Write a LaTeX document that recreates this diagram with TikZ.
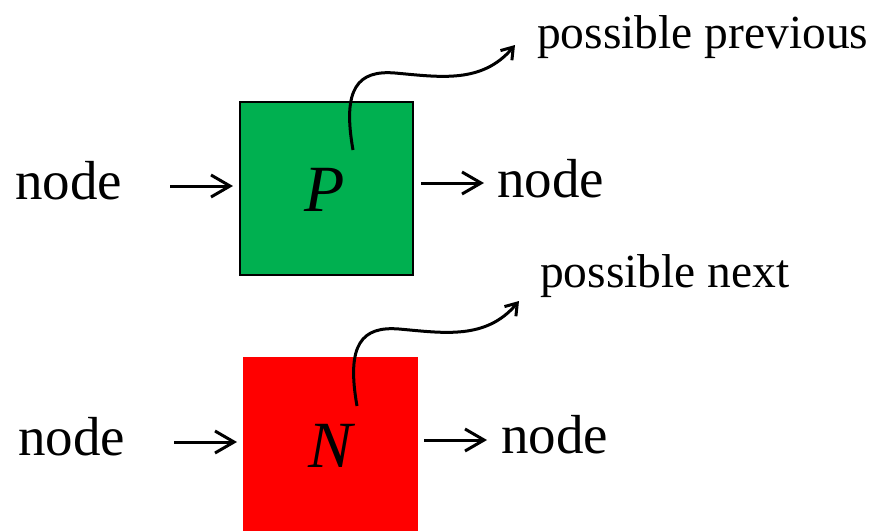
\documentclass[tikz,border=0pt]{standalone}
\usepackage{fontspec}
\setmainfont{Liberation Serif}
\usetikzlibrary{arrows.meta}
\definecolor{boxgreen}{HTML}{00B050}
\definecolor{boxred}{HTML}{FF0000}
\begin{document}
\begin{tikzpicture}[x=1pt,y=-1pt,
  bigtxt/.style={anchor=base west,inner sep=0pt,font=\fontsize{55}{60}\selectfont},
  lbltxt/.style={anchor=base west,inner sep=0pt,font=\fontsize{47.5}{52}\selectfont},
  lettxt/.style={anchor=base,inner sep=0pt,font=\fontsize{66}{70}\selectfont\itshape},
  arr/.style={line width=3pt,-{Straight Barb[length=19pt,width=22pt,line width=3pt]}},
  carr/.style={line width=3pt,-{Straight Barb[length=11pt,width=15pt,line width=3pt]}}]
\fill[white] (0,0) rectangle (872,531);
\useasboundingbox (0,0) rectangle (872,531);
% boxes
\draw[fill=boxgreen,line width=2.2pt] (240,102) rectangle (413,275);
\node[inner sep=0pt,minimum width=173pt,minimum height=173pt] (Pbox) at (326.5,188.5) {};
\fill[boxred] (243,357) rectangle (418,531);
\node[inner sep=0pt,minimum width=175pt,minimum height=174pt] (Nbox) at (330.5,444) {};
% letters
\node[lettxt] (P) at (325,211) {P};
\node[lettxt] (N) at (331,467) {N};
% text
\node[bigtxt] (n1) at (15,199) {node};
\node[bigtxt] (n2) at (497,197) {node};
\node[bigtxt] (n3) at (18,455) {node};
\node[bigtxt] (n4) at (501,453) {node};
\node[lbltxt] (prev) at (537,48) {possible previous};
\node[lbltxt] (next) at (540,287) {possible next};
% arrow coordinates
\coordinate (a1s) at (170,186); \coordinate (a1e) at (233,186);
\coordinate (a2s) at (421,183); \coordinate (a2e) at (484,183);
\coordinate (a3s) at (174,442); \coordinate (a3e) at (237,442);
\coordinate (a4s) at (424,440); \coordinate (a4e) at (487,440);
\draw[arr] (a1s) -- (a1e);
\draw[arr] (a2s) -- (a2e);
\draw[arr] (a3s) -- (a3e);
\draw[arr] (a4s) -- (a4e);
% curved arrows
\coordinate (c1s) at (353,150); \coordinate (c1e) at (515,45);
\coordinate (c2s) at (357,406); \coordinate (c2e) at (519,301);
\draw[carr] (c1s) .. controls (342,88) and (358,70) .. (395,73)
  .. controls (440,77) and (482,84) .. (c1e);
\draw[carr] (c2s) .. controls (346,344) and (362,326) .. (399,329)
  .. controls (444,333) and (486,340) .. (c2e);
\end{tikzpicture}
\end{document}
